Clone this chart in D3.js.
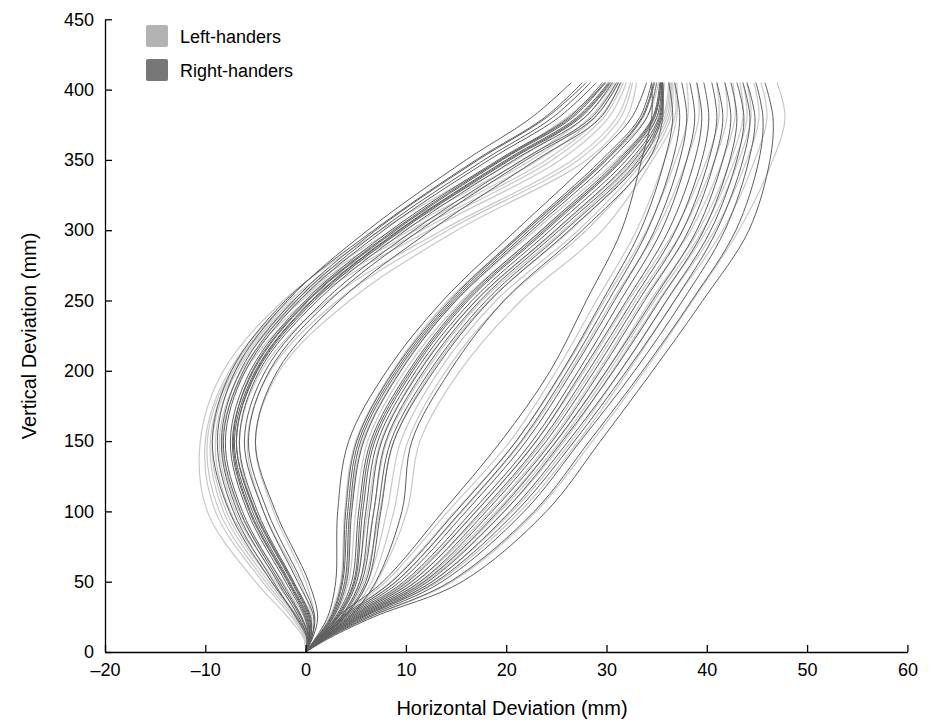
<!DOCTYPE html>
<html lang="en">
<head>
<meta charset="utf-8">
<title>Trajectories</title>
<script src="https://cdn.jsdelivr.net/npm/d3@7"></script>
<style>
  body { margin: 0; background: #fff; }
  text { font-family: "Liberation Sans", Arial, Helvetica, sans-serif; }
</style>
</head>
<body>
<svg id="chart" width="935" height="722"></svg>
<script>
// vertical levels (mm) at which each trajectory's horizontal deviation was read
var yLevels = [0, 10, 25, 50, 100, 150, 200, 250, 300, 350, 380, 405];

// right-handers, three bundles (x in mm at each y level)
var rightLeftBundle = [
  [0, 0.1, -1.0, -3.2, -7.2, -8.8, -7.0, -1.8, 6.2, 16.0, 22.5, 26.5],
  [0, 0.2, -0.7, -2.8, -6.8, -8.4, -6.5, -1.2, 7.0, 17.2, 24.0, 28.0],
  [0, 0.3, -0.4, -2.4, -6.3, -8.0, -6.0, -0.6, 7.8, 18.3, 25.2, 29.0],
  [0, 0.3, -0.1, -2.0, -5.8, -7.5, -5.5, 0.0, 8.5, 19.2, 26.2, 29.6],
  [0, 0.4, 0.2, -1.6, -5.3, -7.1, -5.0, 0.6, 9.3, 20.0, 27.0, 30.2],
  [0, 0.5, 0.5, -1.2, -4.8, -6.6, -4.6, 1.2, 10.0, 20.8, 27.8, 30.6],
  [0, 0.6, 0.8, -0.8, -4.2, -6.1, -4.0, 1.9, 10.8, 21.6, 28.5, 31.0],
  [0, 0.7, 1.2, 0.3, -3.0, -5.0, -2.8, 3.4, 12.5, 23.0, 29.4, 31.4],
  [0, 0.2, -0.9, -3.4, -7.6, -9.3, -7.4, -2.0, 6.8, 17.0, 23.8, 27.6],
  [0, 0.4, 0.0, -1.8, -5.6, -7.3, -5.2, 0.3, 9.0, 19.6, 26.6, 29.9],
  [0, 0.5, 0.4, -1.3, -5.0, -6.9, -4.8, 0.9, 9.6, 20.4, 27.4, 30.4],
  [0, 0.3, -0.5, -2.6, -6.5, -8.2, -6.2, -0.9, 7.4, 17.8, 24.6, 28.4],
  [0, 0.4, 0.1, -1.7, -5.5, -7.2, -5.3, 0.2, 8.8, 19.4, 26.4, 29.8],
  [0, 0.5, 0.3, -1.4, -5.1, -6.9, -4.9, 0.7, 9.4, 20.2, 27.2, 30.3],
  [0, 0.6, 0.9, -0.4, -3.8, -5.7, -3.6, 2.4, 11.4, 22.0, 28.8, 31.2]
];
var rightMidBundle = [
  [0, 1.0, 2.2, 3.0, 3.2, 4.3, 8.1, 13.7, 21.0, 28.5, 32.5, 34.0],
  [0, 1.1, 2.5, 3.6, 4.0, 5.1, 8.8, 14.4, 21.8, 29.5, 33.3, 34.5],
  [0, 1.2, 2.8, 4.1, 4.6, 5.8, 9.5, 15.0, 22.6, 30.4, 34.0, 35.0],
  [0, 1.3, 3.0, 4.6, 5.3, 6.5, 10.3, 15.8, 23.5, 31.2, 34.6, 35.3],
  [0, 1.4, 3.3, 5.1, 6.0, 7.2, 11.0, 16.6, 24.4, 32.0, 35.0, 35.5],
  [0, 1.5, 3.6, 5.6, 6.8, 8.0, 11.8, 17.4, 25.3, 32.8, 35.3, 35.6],
  [0, 1.6, 3.9, 6.2, 7.5, 8.8, 12.8, 18.4, 26.3, 33.5, 35.5, 35.6],
  [0, 1.8, 4.4, 7.0, 9.6, 10.6, 14.4, 19.8, 27.6, 34.2, 35.6, 35.4],
  [0, 1.2, 2.7, 3.9, 4.4, 5.5, 9.2, 14.8, 22.3, 30.0, 33.6, 34.8],
  [0, 1.4, 3.2, 4.9, 5.7, 6.9, 10.7, 16.2, 24.0, 31.6, 34.8, 35.4],
  [0, 1.3, 3.1, 4.8, 5.5, 6.7, 10.5, 16.0, 23.8, 31.4, 34.7, 35.4],
  [0, 1.5, 3.5, 5.4, 6.4, 7.6, 11.4, 17.0, 24.9, 32.4, 35.2, 35.5],
  [0, 1.1, 2.6, 3.7, 4.2, 5.3, 9.0, 14.6, 22.0, 29.8, 33.5, 34.7],
  [0, 1.6, 3.8, 6.0, 7.2, 8.5, 12.4, 18.0, 25.9, 33.2, 35.4, 35.6]
];
var rightRightBundle = [
  [0, 1.3, 3.2, 7.7, 13.7, 19.5, 24.4, 28.0, 31.5, 33.5, 34.5, 34.5],
  [0, 1.4, 3.6, 8.6, 15.0, 21.0, 25.6, 29.6, 33.4, 35.8, 36.6, 36.2],
  [0, 1.5, 4.0, 9.4, 16.0, 22.0, 26.6, 30.8, 34.8, 37.3, 38.0, 37.5],
  [0, 1.6, 4.4, 10.2, 17.0, 23.0, 27.6, 32.0, 36.2, 38.8, 39.5, 39.0],
  [0, 1.7, 4.8, 11.0, 18.0, 24.0, 28.8, 33.2, 37.6, 40.2, 41.0, 40.5],
  [0, 1.8, 5.2, 11.8, 19.2, 25.0, 30.0, 34.6, 39.0, 41.6, 42.4, 41.8],
  [0, 1.9, 5.6, 12.6, 20.4, 26.2, 31.4, 36.0, 40.4, 43.0, 43.7, 43.0],
  [0, 2.1, 6.1, 13.6, 21.8, 27.4, 32.8, 37.6, 41.8, 44.2, 44.8, 44.0],
  [0, 2.4, 6.8, 15.6, 24.0, 29.4, 34.6, 39.6, 44.2, 46.3, 46.6, 45.8],
  [0, 1.6, 4.2, 9.8, 16.6, 22.6, 27.2, 31.4, 35.5, 38.0, 38.8, 38.3],
  [0, 1.8, 5.0, 11.4, 18.6, 24.6, 29.4, 33.8, 38.2, 40.8, 41.6, 41.0],
  [0, 2.0, 5.8, 13.0, 21.0, 26.8, 32.0, 36.8, 41.0, 43.6, 44.3, 43.6],
  [0, 1.5, 3.8, 9.0, 15.5, 21.5, 26.1, 30.2, 34.1, 36.6, 37.3, 36.8],
  [0, 1.7, 4.6, 10.6, 17.5, 23.5, 28.2, 32.6, 36.9, 39.5, 40.2, 39.7],
  [0, 1.9, 5.4, 12.2, 19.8, 25.6, 30.7, 35.3, 39.7, 42.3, 43.0, 42.4],
  [0, 2.2, 6.4, 14.4, 22.8, 28.3, 33.6, 38.5, 42.9, 45.2, 45.6, 44.9]
];

// left-handers, three bundles
var leftLeftBundle = [
  [0, -0.2, -1.8, -5.0, -9.8, -10.5, -8.2, -2.2, 7.5, 19.5, 26.0, 30.0],
  [0, -0.1, -1.4, -4.3, -9.0, -10.0, -7.6, -1.6, 8.6, 21.0, 27.2, 30.6],
  [0, 0.0, -1.0, -3.7, -8.2, -9.5, -7.2, -1.0, 9.8, 22.5, 28.3, 31.0],
  [0, 0.2, -0.6, -3.0, -7.5, -9.0, -6.8, -0.4, 11.0, 24.0, 29.3, 31.5],
  [0, 0.3, -0.2, -2.3, -6.6, -8.3, -6.0, 0.6, 12.3, 25.4, 30.2, 32.0],
  [0, 0.4, 0.4, -1.2, -5.0, -6.6, -4.4, 2.2, 13.6, 26.6, 31.0, 32.4],
  [0, 0.6, 0.9, 0.0, -3.2, -5.0, -2.6, 4.4, 15.1, 28.0, 32.0, 33.0],
  [0, 0.1, -0.8, -3.4, -7.9, -9.3, -7.0, -0.7, 10.4, 23.2, 28.8, 31.2],
  [0, 0.2, -0.4, -2.7, -7.0, -8.6, -6.4, 0.1, 11.6, 24.6, 29.7, 31.7],
  [0, 0.0, -1.2, -4.0, -8.6, -9.8, -7.4, -1.3, 9.2, 21.7, 27.8, 30.8],
  [0, 0.5, 0.6, -0.6, -4.2, -5.8, -3.5, 3.2, 14.2, 27.2, 31.4, 32.6]
];
var leftMidBundle = [
  [0, 1.1, 2.4, 3.5, 3.9, 5.0, 8.7, 14.2, 22.0, 30.0, 34.0, 35.2],
  [0, 1.3, 2.9, 4.3, 5.0, 6.2, 9.9, 15.6, 23.6, 31.6, 35.0, 35.8],
  [0, 1.4, 3.3, 5.0, 6.2, 7.5, 11.3, 17.0, 25.0, 32.6, 35.6, 36.2],
  [0, 1.6, 3.7, 5.8, 7.4, 8.8, 12.6, 18.3, 26.4, 33.4, 36.0, 36.4],
  [0, 1.7, 4.1, 6.6, 8.8, 10.2, 14.0, 19.8, 28.0, 34.2, 36.4, 36.6],
  [0, 1.9, 4.6, 7.1, 10.1, 11.4, 15.4, 21.5, 29.6, 34.6, 36.8, 36.8],
  [0, 1.2, 2.7, 4.0, 4.5, 5.7, 9.4, 15.0, 22.9, 31.0, 34.6, 35.6],
  [0, 1.5, 3.5, 5.4, 6.8, 8.1, 12.0, 17.6, 25.7, 33.0, 35.8, 36.3],
  [0, 1.6, 3.9, 6.2, 8.1, 9.5, 13.3, 19.0, 27.2, 33.8, 36.2, 36.5]
];
var leftRightBundle = [
  [0, 1.3, 3.4, 8.0, 14.2, 20.4, 25.0, 29.0, 33.0, 35.8, 37.0, 37.0],
  [0, 1.5, 3.9, 9.0, 15.6, 21.6, 26.4, 30.6, 35.0, 38.0, 39.2, 39.0],
  [0, 1.6, 4.4, 10.0, 17.0, 23.0, 27.8, 32.2, 36.8, 40.0, 41.2, 41.0],
  [0, 1.7, 4.8, 11.0, 18.4, 24.4, 29.2, 33.6, 38.4, 41.6, 42.8, 42.6],
  [0, 1.9, 5.3, 12.0, 19.8, 25.8, 30.6, 35.2, 40.0, 43.2, 44.4, 44.0],
  [0, 2.0, 5.8, 13.2, 21.4, 27.2, 32.2, 36.8, 41.6, 44.8, 46.0, 45.4],
  [0, 2.2, 6.4, 14.6, 23.0, 28.6, 33.8, 38.6, 43.2, 46.6, 47.8, 47.0],
  [0, 1.8, 5.0, 11.5, 19.0, 25.0, 30.0, 34.4, 39.2, 42.4, 43.6, 43.3],
  [0, 1.4, 3.6, 8.5, 14.9, 21.0, 25.7, 29.8, 34.0, 36.9, 38.1, 38.0],
  [0, 1.7, 4.6, 10.5, 17.7, 23.7, 28.5, 32.9, 37.6, 40.8, 42.0, 41.8],
  [0, 2.0, 5.6, 12.6, 20.6, 26.5, 31.4, 36.0, 40.8, 44.0, 45.2, 44.7],
  [0, 1.8, 5.1, 11.8, 19.4, 25.4, 30.3, 34.8, 39.6, 42.8, 44.0, 43.6]
];

var xTicks = [-20, -10, 0, 10, 20, 30, 40, 50, 60];
var yTicks = [0, 50, 100, 150, 200, 250, 300, 350, 400, 450];
var legendLabels = ["Left-handers", "Right-handers"];

var svg = d3.select("#chart");

var x = d3.scaleLinear().domain([-20, 60]).range([105, 907.4]);
var y = d3.scaleLinear().domain([0, 450]).range([652, 19.3]);

var line = d3.line()
  .x(function(d){ return x(d[0]); })
  .y(function(d){ return y(d[1]); })
  .curve(d3.curveCatmullRom.alpha(0.5));

function toPoints(xs) {
  return xs.map(function(v, i){ return [v, yLevels[i]]; });
}

var lefties = leftLeftBundle.concat(leftMidBundle, leftRightBundle);
var righties = rightLeftBundle.concat(rightMidBundle, rightRightBundle);

svg.append("g").selectAll("path")
  .data(lefties)
  .enter()
  .append("path")
  .attr("d", function(d){ return line(toPoints(d)); })
  .attr("fill", "none")
  .attr("stroke", "#c8c8c8")
  .attr("stroke-width", 1.2);

svg.append("g").selectAll("path")
  .data(righties)
  .enter()
  .append("path")
  .attr("d", function(d){ return line(toPoints(d)); })
  .attr("fill", "none")
  .attr("stroke", "#5e5e5e")
  .attr("stroke-width", 1);

// axes, ticks point inwards
svg.append("g")
  .attr("transform", "translate(0,652)")
  .call(d3.axisBottom(x).tickValues(xTicks).tickSizeInner(-7).tickSizeOuter(0).tickPadding(11)
    .tickFormat(function(d){ return d < 0 ? "\u2013" + Math.abs(d) : d; }));

svg.append("g")
  .attr("transform", "translate(105,0)")
  .call(d3.axisLeft(y).tickValues(yTicks).tickSizeInner(-7).tickSizeOuter(0).tickPadding(11));

svg.selectAll(".domain").attr("stroke", "#000").attr("stroke-width", 1.3);
svg.selectAll(".tick line").attr("stroke", "#000").attr("stroke-width", 1.3);
svg.selectAll(".tick text").attr("font-size", 18).attr("fill", "#000")
  .attr("font-family", "'Liberation Sans', Arial, sans-serif");

svg.append("text")
  .attr("x", 512)
  .attr("y", 715)
  .attr("text-anchor", "middle")
  .attr("font-size", 20)
  .text("Horizontal Deviation (mm)");

svg.append("text")
  .attr("transform", "translate(36,336) rotate(-90)")
  .attr("text-anchor", "middle")
  .attr("font-size", 20)
  .text("Vertical Deviation (mm)");

// legend
var legend = svg.append("g").selectAll("g")
  .data(legendLabels)
  .enter()
  .append("g")
  .attr("transform", function(d, i){ return "translate(146," + (25 + i * 34) + ")"; });

legend.append("rect")
  .attr("width", 22)
  .attr("height", 22)
  .attr("rx", 2)
  .attr("fill", function(d, i){ return i == 0 ? "#b3b3b3" : "#777"; });

legend.append("text")
  .attr("x", 34)
  .attr("y", 18)
  .attr("font-size", 18)
  .text(function(d){ return d; });
</script>
</body>
</html>
